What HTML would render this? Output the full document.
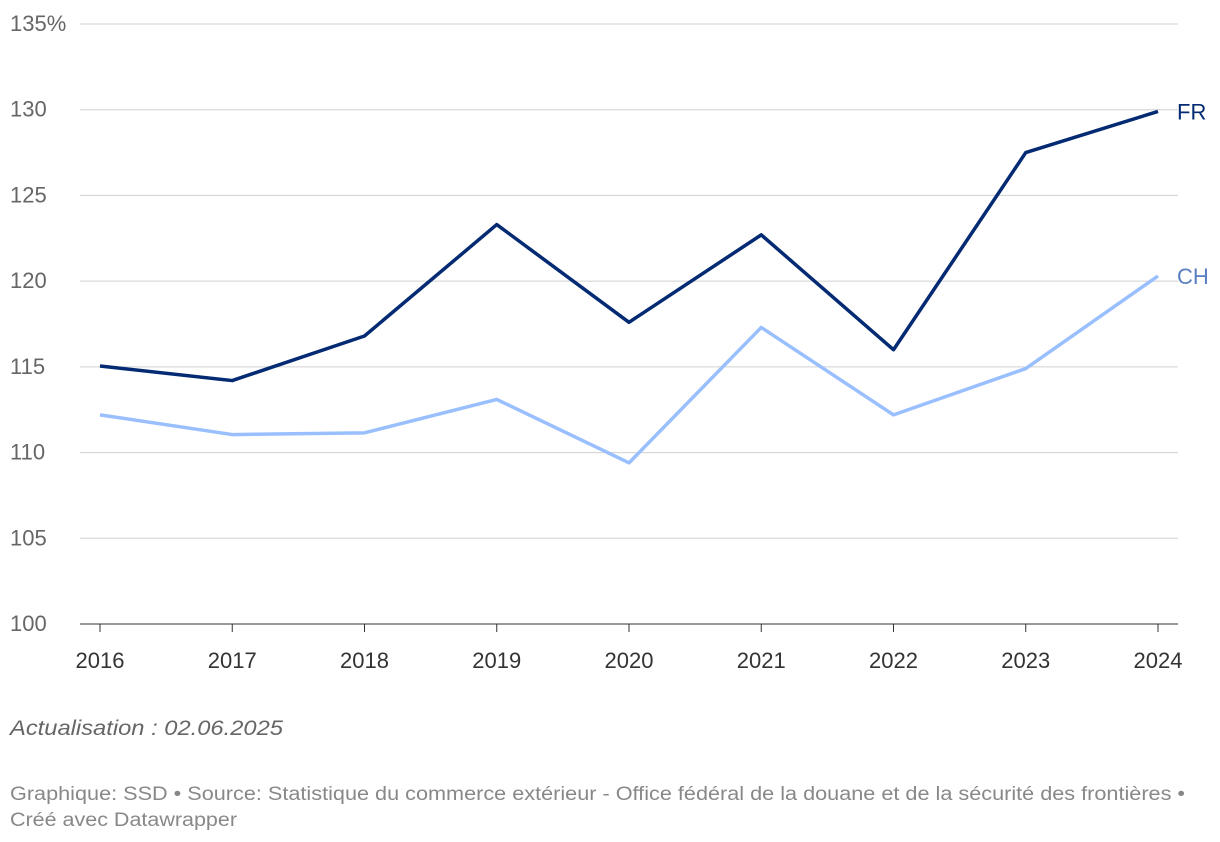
<!DOCTYPE html>
<html><head><meta charset="utf-8">
<style>
body{margin:0;background:#fff;font-family:"Liberation Sans",sans-serif;}
svg{display:block}
</style></head>
<body>
<svg id="chart" width="1220" height="842" xmlns="http://www.w3.org/2000/svg">
<g id="grid"></g><g id="xaxis"></g><g id="series"></g>
<text x="10" y="735" font-size="21" font-style="italic" fill="#666" textLength="273" lengthAdjust="spacingAndGlyphs">Actualisation : 02.06.2025</text>
<text x="10" y="800" font-size="19" fill="#888" textLength="1175" lengthAdjust="spacingAndGlyphs">Graphique: SSD • Source: Statistique du commerce extérieur - Office fédéral de la douane et de la sécurité des frontières •</text>
<text x="10" y="826" font-size="19" fill="#888" textLength="227" lengthAdjust="spacingAndGlyphs">Créé avec Datawrapper</text>
</svg>
<script>
const years=[2016,2017,2018,2019,2020,2021,2022,2023,2024];
const fr=[115.05,114.2,116.8,123.3,117.6,122.7,116.0,127.5,129.9];
const ch=[112.2,111.05,111.15,113.1,109.4,117.3,112.2,114.9,120.3];
const yTicks=[100,105,110,115,120,125,130,135];
const NS="http://www.w3.org/2000/svg";
const x=i=>100+i*(1158-100)/(years.length-1);
const y=v=>624-(v-100)*600/35;
function mk(tag,attrs,parent){const e=document.createElementNS(NS,tag);for(const k in attrs)e.setAttribute(k,attrs[k]);parent.appendChild(e);return e;}
const grid=document.getElementById('grid');
yTicks.forEach(t=>{
  const l=mk('line',{x1:80,x2:1178,y1:y(t),y2:y(t),stroke:t===100?'#333':'#d0d0d0','stroke-width':1},grid);
  
  
  const tx=mk('text',{x:10,y:y(t)+7,'font-size':22,fill:'#666'},grid);
  tx.textContent=t===135?'135%':t;
  
  
});
const xa=document.getElementById('xaxis');
years.forEach((yr,i)=>{
  const l=mk('line',{x1:x(i),x2:x(i),y1:624,y2:632,stroke:'#333'},xa);
  
  
  const t=mk('text',{x:x(i),y:668,'font-size':22,fill:'#333','text-anchor':'middle'},xa);
  t.textContent=yr;
  
  
});
const sg=document.getElementById('series');
function line(data,color,label,name,lc){
  const p=mk('polyline',{points:data.map((v,i)=>x(i)+','+y(v)).join(' '),fill:'none',stroke:color,'stroke-width':3.5,'stroke-linejoin':'round'},sg);
  
  
  const t=mk('text',{x:1177,y:y(data[data.length-1])+8,'font-size':22,fill:lc},sg);
  t.textContent=label;
  
  
}
line(ch,'#99bfff','CH','ch','#5a7fc0');
line(fr,'#032a72','FR','fr','#032a72');
</script>
</body></html>
